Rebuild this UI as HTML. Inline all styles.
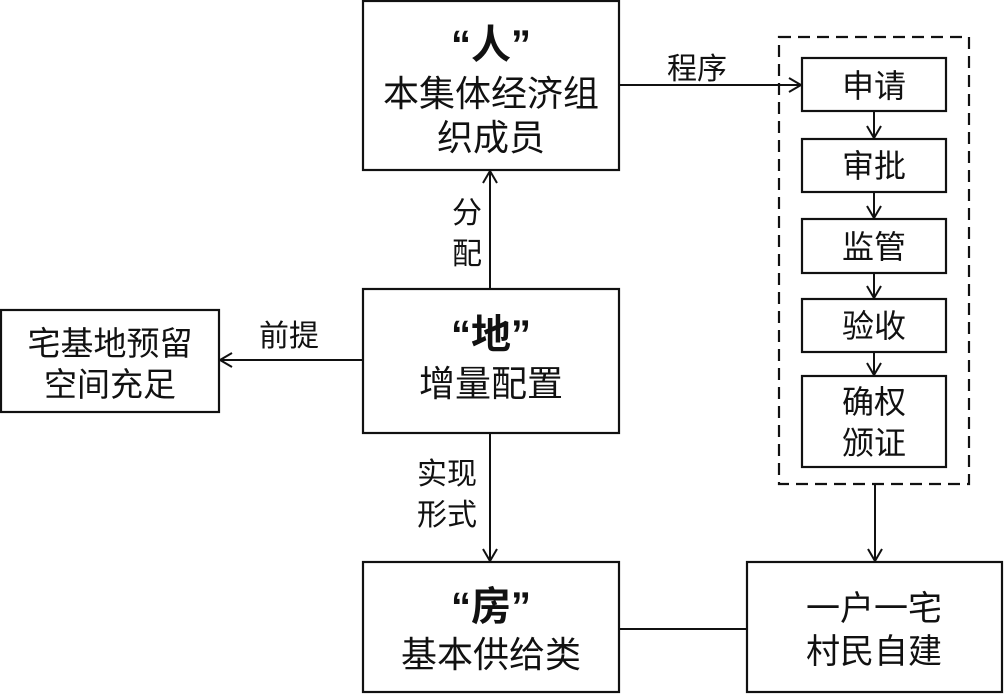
<!DOCTYPE html>
<html><head><meta charset="utf-8"><style>
html,body{margin:0;padding:0;background:#fff;}
svg{display:block;}
text{font-family:"Liberation Sans","Noto Sans CJK SC",sans-serif;fill:#111;text-anchor:middle;}
.b{font-weight:bold;}
</style></head><body>
<svg width="1004" height="695" viewBox="0 0 1004 695" xmlns="http://www.w3.org/2000/svg">
<defs><marker id="a" markerWidth="16" markerHeight="16" refX="13" refY="8" orient="auto" markerUnits="userSpaceOnUse"><path d="M1,1 L13,8 L1,15" fill="none" stroke="#111" stroke-width="2"/></marker></defs>
<g fill="none" stroke="#111" stroke-width="2.2">
<rect x="363" y="1" width="256" height="169"/>
<rect x="363" y="289" width="256" height="144"/>
<rect x="363" y="562" width="256" height="130"/>
<rect x="1" y="310" width="218" height="102"/>
<rect x="747" y="562" width="255" height="130"/>
<rect x="779" y="37" width="190" height="447" stroke-dasharray="12,7"/>
<rect x="802" y="58" width="144" height="53"/>
<rect x="802" y="139" width="144" height="53"/>
<rect x="802" y="219" width="144" height="54"/>
<rect x="802" y="299" width="144" height="53"/>
<rect x="802" y="376" width="144" height="91"/>
</g>
<g stroke="#111" stroke-width="2" fill="none">
<line x1="619" y1="85" x2="801" y2="85" marker-end="url(#a)"/>
<line x1="490" y1="289" x2="490" y2="171" marker-end="url(#a)"/>
<line x1="490" y1="433" x2="490" y2="561" marker-end="url(#a)"/>
<line x1="363" y1="360" x2="220" y2="360" marker-end="url(#a)"/>
<line x1="619" y1="629" x2="747" y2="629"/>
<line x1="875" y1="484" x2="875" y2="561" marker-end="url(#a)"/>
<line x1="874" y1="111" x2="874" y2="138" marker-end="url(#a)"/>
<line x1="874" y1="192" x2="874" y2="218" marker-end="url(#a)"/>
<line x1="874" y1="273" x2="874" y2="298" marker-end="url(#a)"/>
<line x1="874" y1="352" x2="874" y2="375" marker-end="url(#a)"/>
</g>
<text class="b" x="491" y="58" font-size="40">“人”</text>
<text x="491" y="106" font-size="36">本集体经济组</text>
<text x="491" y="150" font-size="36">织成员</text>
<text class="b" x="491" y="348" font-size="40">“地”</text>
<text x="491" y="396" font-size="36">增量配置</text>
<text class="b" x="491" y="620" font-size="40">“房”</text>
<text x="491" y="667" font-size="36">基本供给类</text>
<text x="110" y="355" font-size="33">宅基地预留</text>
<text x="110" y="396" font-size="33">空间充足</text>
<text x="874" y="620" font-size="34">一户一宅</text>
<text x="874" y="663" font-size="34">村民自建</text>
<text x="874" y="97" font-size="32">申请</text>
<text x="874" y="177" font-size="32">审批</text>
<text x="874" y="258" font-size="32">监管</text>
<text x="874" y="337" font-size="32">验收</text>
<text x="874" y="413" font-size="32">确权</text>
<text x="874" y="454" font-size="32">颁证</text>
<text x="697" y="79" font-size="30">程序</text>
<text x="289" y="346" font-size="30">前提</text>
<text x="467" y="223" font-size="30">分</text>
<text x="467" y="264" font-size="30">配</text>
<text x="447" y="484" font-size="30">实现</text>
<text x="447" y="525" font-size="30">形式</text>
</svg>
</body></html>
